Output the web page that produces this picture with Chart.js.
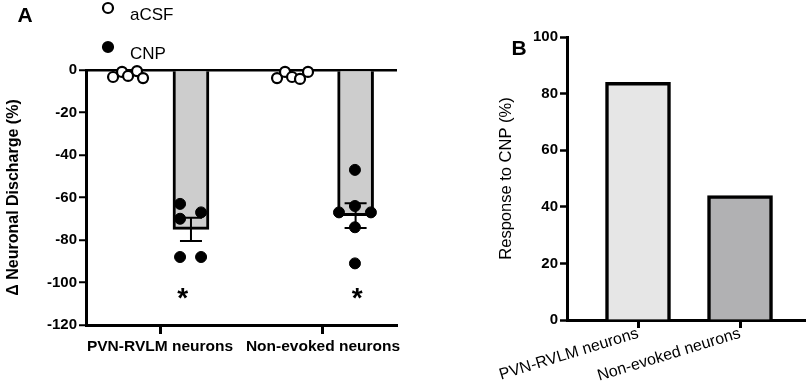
<!DOCTYPE html>
<html><head><meta charset="utf-8">
<script src="https://cdn.jsdelivr.net/npm/chart.js@4.4.1/dist/chart.umd.min.js"></script>
<style>
html,body{margin:0;padding:0;background:#fff;}
#wrap{position:relative;width:809px;height:382px;overflow:hidden;background:#fff;}
#ca{position:absolute;left:0;top:0;}
#cb{position:absolute;left:480px;top:0;}
</style></head><body>
<div id="wrap"><canvas id="ca" width="480" height="382"></canvas><canvas id="cb" width="329" height="382"></canvas></div>
<script>
// ---------- data ----------
const categories = ['PVN-RVLM neurons', 'Non-evoked neurons'];
const seriesNames = ['aCSF', 'CNP'];
const panelLabels = ['A', 'B'];
const yTitleA = 'Δ Neuronal Discharge (%)';
const yTitleB = 'Response to CNP (%)';

// Panel A: individual neurons (% change), per category
const acsfValues = [[-3.3, -0.9, -2.8, -0.5, -3.8], [-3.8, -0.9, -3.3, -4.2, -0.9]];
const acsfJitter = [[-0.288, -0.233, -0.196, -0.141, -0.104], [-0.282, -0.233, -0.190, -0.141, -0.092]];
const cnpValues = [[-63, -67, -70, -88, -88], [-47, -64, -67, -67, -74, -91]];
const cnpJitter = [[0.123, 0.252, 0.123, 0.123, 0.252], [0.196, 0.196, 0.098, 0.294, 0.196, 0.196]];
const cnpMean = [-75, -68.5];
const cnpSem = [5.5, 5.8];
const barOffset = [0.19, 0.2];
const sigY = [-105, -105];
const sigOffset = [0.14, 0.21];

// Panel B: % neurons responding to CNP
const responsePct = [84, 44];

// ---------- build ----------
const FONT = "'Liberation Sans', Arial, Helvetica, sans-serif";
Chart.defaults.font.family = FONT;
Chart.defaults.color = '#000';

const acsfData = [];
acsfValues.forEach((arr, i) => arr.forEach((v, j) => acsfData.push({x: i + 1 + acsfJitter[i][j], y: v})));
const cnpData = [];
cnpValues.forEach((arr, i) => arr.forEach((v, j) => cnpData.push({x: i + 1 + cnpJitter[i][j], y: v})));

const catTicks = s => { s.ticks = categories.map((c, i) => ({value: i + 1})); };

const errorBarPlugin = {
  id: 'errbars',
  afterDatasetDraw(chart, args) {
    if (args.index !== 0) return;
    const xs = chart.scales.x, ys = chart.scales.y, ctx = chart.ctx;
    ctx.save();
    ctx.strokeStyle = '#000'; ctx.lineWidth = 2;
    cnpMean.forEach((m, i) => {
      const px = xs.getPixelForValue(i + 1 + barOffset[i]);
      const y1 = ys.getPixelForValue(m + cnpSem[i]);
      const y2 = ys.getPixelForValue(m - cnpSem[i]);
      const hw = 11;
      ctx.beginPath();
      ctx.moveTo(px, y1); ctx.lineTo(px, y2);
      ctx.moveTo(px - hw, y1); ctx.lineTo(px + hw, y1);
      ctx.moveTo(px - hw, y2); ctx.lineTo(px + hw, y2);
      ctx.stroke();
    });
    ctx.restore();
  }
};

const decoA = {
  id: 'decoA',
  afterDraw(chart) {
    const ctx = chart.ctx, xs = chart.scales.x, ys = chart.scales.y;
    ctx.save();
    // asterisks
    ctx.font = 'bold 28px ' + FONT;
    ctx.fillStyle = '#000';
    ctx.textAlign = 'center';
    ctx.textBaseline = 'alphabetic';
    const m = ctx.measureText('*');
    sigY.forEach((v, i) => {
      const cx = xs.getPixelForValue(i + 1 + sigOffset[i]);
      const cy = ys.getPixelForValue(v);
      const base = cy - (m.actualBoundingBoxDescent - m.actualBoundingBoxAscent) / 2;
      ctx.fillText('*', cx, base);
    });
    // legend
    const items = [{y: 8, fill: '#fff'}, {y: 47, fill: '#000'}];
    items.forEach((it, i) => {
      ctx.beginPath();
      ctx.arc(108, it.y, 5, 0, Math.PI * 2);
      ctx.fillStyle = it.fill; ctx.fill();
      ctx.lineWidth = 2.2; ctx.strokeStyle = '#000'; ctx.stroke();
      ctx.fillStyle = '#000';
      ctx.font = '17px ' + FONT;
      ctx.textAlign = 'left'; ctx.textBaseline = 'middle';
      ctx.fillText(seriesNames[i], 130, it.y + 7);
    });
    // panel label
    ctx.font = 'bold 21px ' + FONT;
    ctx.textAlign = 'center'; ctx.textBaseline = 'middle';
    ctx.fillText(panelLabels[0], 25, 16);
    ctx.restore();
  }
};

new Chart(document.getElementById('ca'), {
  type: 'scatter',
  data: {
    datasets: [
      {type: 'bar', label: 'CNP mean', data: cnpMean.map((v, i) => ({x: i + 1 + barOffset[i], y: v})),
       backgroundColor: '#cdcdcd', borderColor: '#000', borderWidth: 3, barThickness: 36,
       borderSkipped: 'start', order: 3},
      {label: seriesNames[0], data: acsfData, pointRadius: 5, pointBorderWidth: 2.2,
       pointBackgroundColor: '#fff', pointBorderColor: '#000', order: 2, clip: false},
      {label: seriesNames[1], data: cnpData, pointRadius: 5.5, pointBorderWidth: 1,
       pointBackgroundColor: '#000', pointBorderColor: '#000', order: 1, clip: false}
    ]
  },
  options: {
    responsive: false, animation: false, events: [],
    layout: {padding: {top: 70, right: 83, left: 0, bottom: 0}},
    plugins: {legend: {display: false}, tooltip: {enabled: false}},
    scales: {
      x: {type: 'linear', min: 0.546, max: 2.454, offset: false,
          afterFit: s => { s.height = 57; s.paddingLeft = 0; s.paddingRight = 0; }, afterBuildTicks: catTicks,
          ticks: {autoSkip: false, minRotation: 0, maxRotation: 0, padding: 3,
                  font: {size: 15.5, weight: 'bold'}, color: '#000', callback: v => categories[v - 1]},
          grid: {offset: false, drawOnChartArea: false, tickLength: 9, tickColor: '#000', tickWidth: 3},
          border: {display: true, color: '#000', width: 3}},
      y: {min: -120, max: 0, afterFit: s => { s.width = 86; },
          ticks: {stepSize: 20, padding: 2, font: {size: 15, weight: 'bold'}, color: '#000'},
          grid: {color: c => (c.tick && c.tick.value === 0) ? '#000' : 'rgba(0,0,0,0)', lineWidth: 2.5,
                 tickColor: '#000', tickLength: 7, tickWidth: 2},
          border: {display: true, color: '#000', width: 3},
          title: {display: true, text: yTitleA, font: {size: 16, weight: 'bold'}, color: '#000',
                  padding: {top: 4, bottom: 0}}}
    }
  },
  plugins: [errorBarPlugin, decoA]
});

const decoB = {
  id: 'decoB',
  afterDraw(chart) {
    const ctx = chart.ctx;
    ctx.save();
    ctx.fillStyle = '#000';
    ctx.font = 'bold 21px ' + FONT;
    ctx.textAlign = 'center'; ctx.textBaseline = 'middle';
    ctx.fillText(panelLabels[1], 39, 49);
    ctx.restore();
  }
};

new Chart(document.getElementById('cb'), {
  type: 'bar',
  data: {
    datasets: [{label: 'Response', data: responsePct.map((v, i) => ({x: i + 1, y: v})),
      backgroundColor: ['#e6e6e6', '#b1b1b3'], borderColor: '#000', borderWidth: 3.5,
      barThickness: 65, borderSkipped: 'start'}]
  },
  options: {
    responsive: false, animation: false, events: [],
    layout: {padding: {top: 37, right: 4, left: 0, bottom: 0}},
    plugins: {legend: {display: false}, tooltip: {enabled: false}},
    scales: {
      x: {type: 'linear', min: 0.304, max: 2.637, offset: false,
          afterFit: s => { s.height = 62; s.paddingLeft = 0; s.paddingRight = 0; }, afterBuildTicks: catTicks,
          ticks: {autoSkip: false, minRotation: 17, maxRotation: 17, padding: -4,
                  font: {size: 16}, color: '#000', callback: v => categories[v - 1]},
          grid: {offset: false, drawOnChartArea: false, tickLength: 8, tickColor: '#000', tickWidth: 3},
          border: {display: true, color: '#000', width: 3}},
      y: {min: 0, max: 100, afterFit: s => { s.width = 87; },
          ticks: {stepSize: 20, padding: 2, font: {size: 15, weight: 'bold'}, color: '#000'},
          grid: {drawOnChartArea: false, tickColor: '#000', tickLength: 7, tickWidth: 2.5},
          border: {display: true, color: '#000', width: 3},
          title: {display: true, text: yTitleB, font: {size: 16.5}, color: '#000',
                  padding: {top: 17, bottom: 0}}}
    }
  },
  plugins: [decoB]
});
</script>
</body></html>
